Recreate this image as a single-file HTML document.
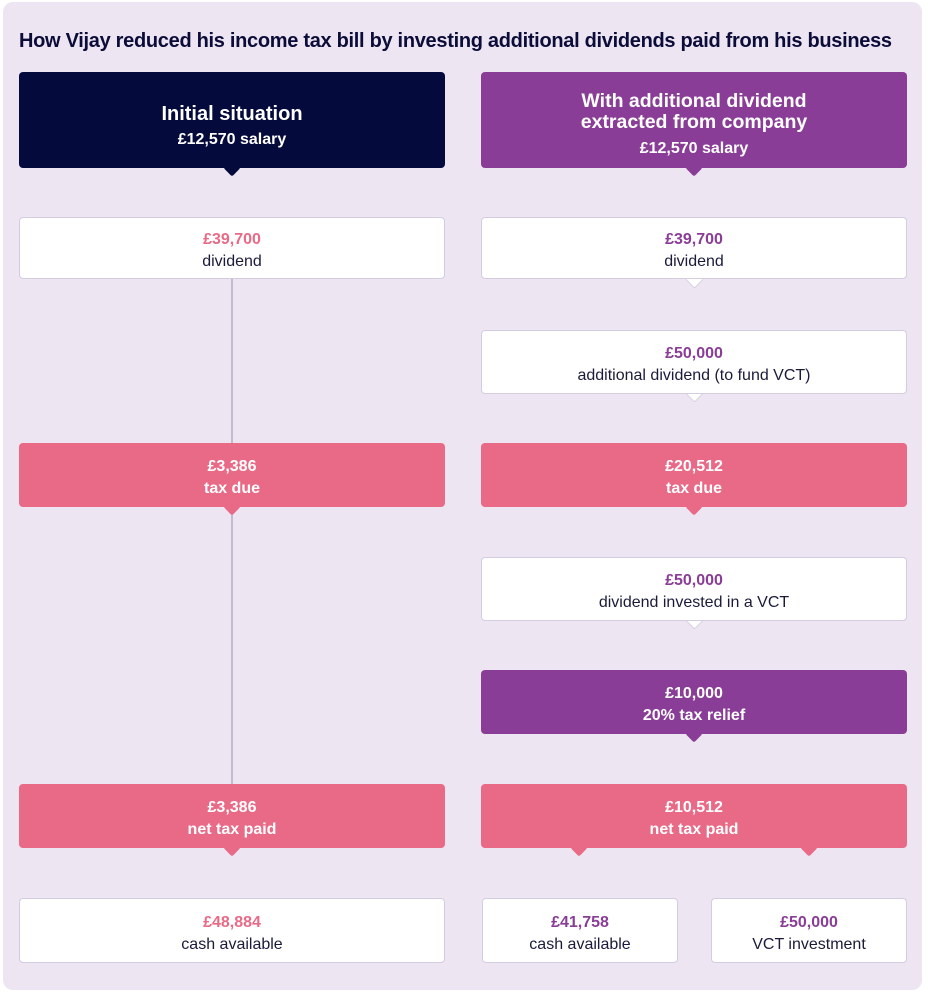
<!DOCTYPE html>
<html><head><style>
body{margin:0;width:927px;height:995px;background:#fff;font-family:"Liberation Sans",sans-serif;position:relative;overflow:hidden}
.panel{position:absolute;left:3px;top:2px;width:919px;height:988px;background:#ede5f2;border-radius:10px}
h1{position:absolute;left:19px;top:30px;margin:0;font-size:20px;font-weight:bold;color:#0b0c38;letter-spacing:-0.3px;white-space:nowrap}
.b{position:absolute;box-sizing:border-box;border-radius:4px;display:flex;flex-direction:column;justify-content:center;align-items:center;text-align:center;font-size:16px;line-height:22px;padding-top:6px}
.w{background:#fff;border:1.5px solid #d4cce0;color:#1a1a3a}
.w .v{font-weight:bold}
.pk .v{color:#e96a87}
.pu .v{color:#8a3d96}
.p{background:#e96a87;color:#fff;font-weight:bold}
.d{background:#050a3c;color:#fff;font-weight:bold}
.m{background:#8a3d96;color:#fff;font-weight:bold}
.n{position:absolute;width:12px;height:12px;transform:rotate(45deg);border-radius:2px}
.n.w2{background:#fff;border-right:1.5px solid #d4cce0;border-bottom:1.5px solid #d4cce0}
.line{position:absolute;left:231px;width:1.5px;background:#c4b9cf}
</style></head><body>
<div class="panel"></div>
<h1>How Vijay reduced his income tax bill by investing additional dividends paid from his business</h1>

<div class="line" style="top:278px;height:506px"></div>

<div class="n" style="left:226px;top:162px;background:#050a3c"></div>
<div class="b d" style="left:19px;top:72px;width:426px;height:96px;padding-top:10px"><div style="font-size:20px;line-height:30px">Initial situation</div><div style="font-size:16px">£12,570 salary</div></div>
<div class="n" style="left:688px;top:162px;background:#8a3d96"></div>
<div class="b m" style="left:481px;top:72px;width:426px;height:96px;padding-top:14px"><div style="font-size:19.5px;line-height:21px">With additional dividend<br>extracted from company</div><div style="font-size:16px;line-height:28px;margin-top:2px">£12,570 salary</div></div>

<div class="b w pk" style="left:19px;top:217px;width:426px;height:62px"><div class="v">£39,700</div><div>dividend</div></div>
<div class="n w2" style="left:688px;top:273px"></div>
<div class="b w pu" style="left:481px;top:217px;width:426px;height:62px"><div class="v">£39,700</div><div>dividend</div></div>

<div class="n w2" style="left:688px;top:387px"></div>
<div class="b w pu" style="left:481px;top:330px;width:426px;height:64px"><div class="v">£50,000</div><div>additional dividend (to fund VCT)</div></div>

<div class="n" style="left:226px;top:501px;background:#e96a87"></div>
<div class="b p" style="left:19px;top:443px;width:426px;height:64px"><div>£3,386</div><div>tax due</div></div>
<div class="n" style="left:688px;top:501px;background:#e96a87"></div>
<div class="b p" style="left:481px;top:443px;width:426px;height:64px"><div>£20,512</div><div>tax due</div></div>

<div class="n w2" style="left:688px;top:614px"></div>
<div class="b w pu" style="left:481px;top:557px;width:426px;height:64px"><div class="v">£50,000</div><div>dividend invested in a VCT</div></div>

<div class="n" style="left:688px;top:728px;background:#8a3d96"></div>
<div class="b m" style="left:481px;top:670px;width:426px;height:64px"><div>£10,000</div><div>20% tax relief</div></div>

<div class="n" style="left:226px;top:842px;background:#e96a87"></div>
<div class="b p" style="left:19px;top:784px;width:426px;height:64px"><div>£3,386</div><div>net tax paid</div></div>
<div class="n" style="left:573px;top:842px;background:#e96a87"></div>
<div class="n" style="left:803px;top:842px;background:#e96a87"></div>
<div class="b p" style="left:481px;top:784px;width:426px;height:64px"><div>£10,512</div><div>net tax paid</div></div>

<div class="b w pk" style="left:19px;top:898px;width:426px;height:65px"><div class="v">£48,884</div><div>cash available</div></div>
<div class="b w pu" style="left:482px;top:898px;width:196px;height:65px"><div class="v">£41,758</div><div>cash available</div></div>
<div class="b w pu" style="left:711px;top:898px;width:196px;height:65px"><div class="v">£50,000</div><div>VCT investment</div></div>
</body></html>
